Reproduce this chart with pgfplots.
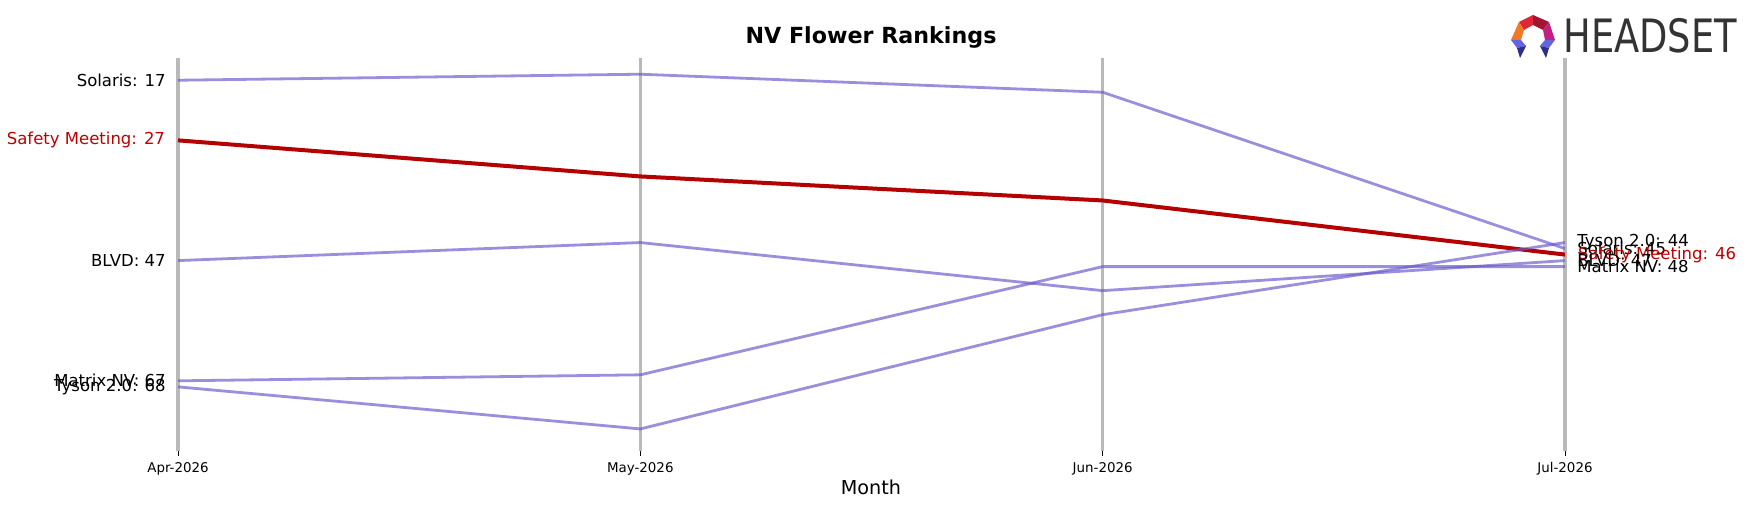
\documentclass[border=0pt]{standalone}
\usepackage{pgfplots}
\pgfplotsset{compat=1.18}
\usepackage{fontspec}
\setmainfont{DejaVu Sans}
\definecolor{lin}{RGB}{106,90,205}
\definecolor{sm}{RGB}{180,0,0}
\definecolor{smtext}{RGB}{190,0,0}
\definecolor{gridc}{RGB}{185,185,185}
\definecolor{lgA}{RGB}{220,40,55}
\definecolor{lgB}{RGB}{165,20,50}
\definecolor{lgC}{RGB}{242,120,40}
\definecolor{lgD}{RGB}{195,30,130}
\definecolor{lgE}{RGB}{100,100,225}
\definecolor{lgF}{RGB}{45,45,140}
\definecolor{lgT}{RGB}{51,51,51}
\tikzset{lbl/.style={font=\fontsize{8.25}{10}\selectfont, inner sep=0pt, opacity=1},
  lft/.style={lbl, anchor=east, xshift=-5.5pt},
  rgt/.style={lbl, anchor=west, xshift=5.5pt}}
\begin{document}
\begin{tikzpicture}
\useasboundingbox (-89pt,-27.5pt) rectangle (784.5pt,225.5pt);
\begin{axis}[
  at={(0,0)}, anchor=south west,
  scale only axis, width=693.5pt, height=196.5pt,
  xmin=0, xmax=3, ymin=13.3, ymax=78.67, y dir=reverse,
  axis line style={draw=none},
  ytick=\empty,
  xtick={0,1,2,3}, xtick pos=bottom,
  xticklabels={Apr-2026,May-2026,Jun-2026,Jul-2026},
  xticklabel style={font=\fontsize{6.7}{8}\selectfont, yshift=0.5pt},
  tick align=outside, major tick length=2.5pt,
  tick style={black, line width=0.4pt},
  xmajorgrids, major grid style={gridc, line width=1.7pt},
  clip=false,
]
\addplot[lin, opacity=0.68, line width=1.4pt] coordinates {(0,17) (1,16) (2,19) (3,45)}
  node[pos=0, lft, black] {Solaris: 17}
  node[pos=1, rgt, black] {Solaris: 45};
\addplot[sm, line width=2pt] coordinates {(0,27) (1,33) (2,37) (3,46)}
  node[pos=0, lft, smtext] {Safety Meeting: 27}
  node[pos=1, rgt, smtext] {Safety Meeting: 46};
\addplot[lin, opacity=0.68, line width=1.4pt] coordinates {(0,47) (1,44) (2,52) (3,47)}
  node[pos=0, lft, black] {BLVD: 47}
  node[pos=1, rgt, black] {BLVD: 47};
\addplot[lin, opacity=0.68, line width=1.4pt] coordinates {(0,67) (1,66) (2,48) (3,48)}
  node[pos=0, lft, black] {Matrix NV: 67}
  node[pos=1, rgt, black] {Matrix NV: 48};
\addplot[lin, opacity=0.68, line width=1.4pt] coordinates {(0,68) (1,75) (2,56) (3,44)}
  node[pos=0, lft, black] {Tyson 2.0: 68}
  node[pos=1, rgt, black] {Tyson 2.0: 44};
\end{axis}
\begin{scope}[shift={(-89pt,225.5pt)}, x=0.5pt, y=-0.5pt]
\node[font=\bfseries\fontsize{11.1}{13}\selectfont] at (871,37) {NV Flower Rankings};
\node[font=\fontsize{9.6}{11}\selectfont] at (871,487) {Month};
% logo
\fill[lgA] (1533,15) -- (1519,22) -- (1524,30) -- (1533,25) -- cycle;
\fill[lgB] (1533,15) -- (1549,22) -- (1543,30) -- (1533,25) -- cycle;
\fill[lgC] (1519,22) -- (1511,40) -- (1521,40) -- (1524,30) -- cycle;
\fill[lgD] (1549,22) -- (1555,40) -- (1545,40) -- (1543,30) -- cycle;
\fill[lgE] (1511,40) -- (1521,40) -- (1526,46) -- (1517,48) -- cycle;
\fill[lgF] (1517,48) -- (1526,46) -- (1520,58) -- cycle;
\fill[lgE] (1555,40) -- (1545,40) -- (1540,46) -- (1549,48) -- cycle;
\fill[lgF] (1549,48) -- (1540,46) -- (1546,58) -- cycle;
\node[anchor=west, inner sep=0pt, text=lgT, font=\fontsize{23}{23}\selectfont, xscale=0.8] at (1563,36) {HEADSET};
\end{scope}
\end{tikzpicture}
\end{document}
